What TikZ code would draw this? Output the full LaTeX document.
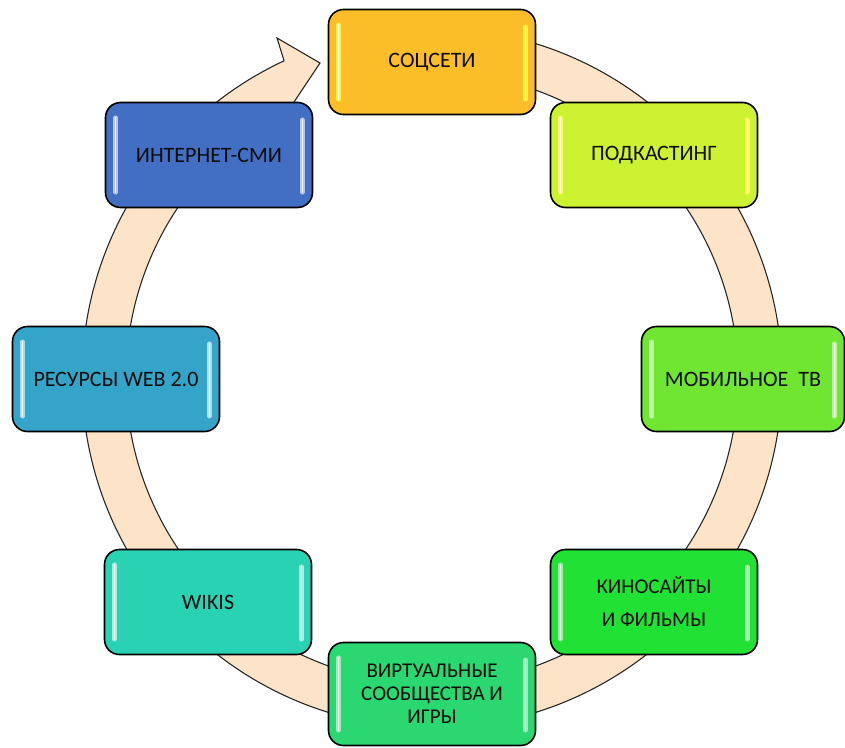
\documentclass[tikz,border=0pt]{standalone}
\usepackage{fontspec}
\setmainfont{Carlito}
\usetikzlibrary{calc}
\definecolor{cSoc}{RGB}{252,190,40}
\definecolor{cPod}{RGB}{205,242,50}
\definecolor{cMob}{RGB}{112,230,50}
\definecolor{cKino}{RGB}{32,225,52}
\definecolor{cVirt}{RGB}{42,215,112}
\definecolor{cWiki}{RGB}{42,210,180}
\definecolor{cRes}{RGB}{52,165,200}
\definecolor{cInt}{RGB}{66,110,195}
\definecolor{ringfill}{RGB}{253,228,200}
\definecolor{ringline}{RGB}{40,40,40}
\newcommand\glossbox[3]{%
  \draw[line width=4.5pt, #2!#3!white, line cap=round]
    ([xshift=11pt,yshift=-16pt]#1.north west) -- ([xshift=11pt,yshift=16pt]#1.south west);
  \draw[line width=1.5pt, #2!8!white, line cap=round]
    ([xshift=11pt,yshift=-16pt]#1.north west) -- ([xshift=11pt,yshift=16pt]#1.south west);
  \draw[line width=4.5pt, #2!#3!white, line cap=round]
    ([xshift=-11pt,yshift=-18pt]#1.north east) -- ([xshift=-11pt,yshift=16pt]#1.south east);
  \draw[line width=1.5pt, #2!8!white, line cap=round]
    ([xshift=-11pt,yshift=-18pt]#1.north east) -- ([xshift=-11pt,yshift=16pt]#1.south east);
}
\begin{document}
\begin{tikzpicture}[x=1pt,y=1pt,
  stage/.style={draw=black, line width=1.6pt, rounded corners=15pt,
    minimum width=207pt, minimum height=105pt, inner sep=0pt, align=center,
    text=black!95, font=\fontsize{22}{26}\selectfont},
  ring/.style={fill=ringfill, draw=ringline, line width=1.1pt, line join=miter}]
\useasboundingbox (0,0) rectangle (845,-747);
\coordinate (c) at (432,-378);
% ring with arrowhead
\coordinate (s0) at ($(c)+(85:350)$);
\coordinate (bo) at (277,-38);
\coordinate (tip) at (320,-63);
\coordinate (bi) at (262,-150);
\coordinate (ni) at ($(c)+(118:306)$);
\path[ring] (s0) arc[start angle=85, end angle=-245, radius=350]
  -- (bo) -- (tip) -- (bi) -- (ni)
  arc[start angle=-242, end angle=85, radius=306] -- cycle;
% boxes
\node[stage, fill=cSoc] (soc) at (432,-62) {СОЦСЕТИ};
\node[stage, fill=cPod] (pod) at (654,-155) {ПОДКАСТИНГ};
\node[stage, fill=cMob, minimum width=203pt] (mob) at (743,-379) {МОБИЛЬНОЕ\ \ ТВ};
\node[stage, fill=cKino, font=\fontsize{21}{33}\selectfont] (kino) at (654,-602) {КИНОСАЙТЫ\\И ФИЛЬМЫ};
\node[stage, fill=cVirt, minimum height=103pt, font=\fontsize{21}{23}\selectfont] (virt) at (432,-694) {ВИРТУАЛЬНЫЕ\\СООБЩЕСТВА И\\ИГРЫ};
\node[stage, fill=cWiki] (wiki) at (208,-602) {WIKIS};
\node[stage, fill=cRes] (res) at (116,-379) {РЕСУРСЫ WEB 2.0};
\node[stage, fill=cInt] (int) at (209,-155) {ИНТЕРНЕТ-СМИ};
\glossbox{soc}{yellow}{75}
\glossbox{pod}{yellow}{60}
\glossbox{mob}{cMob}{45}
\glossbox{kino}{cKino}{45}
\glossbox{virt}{cVirt}{45}
\glossbox{wiki}{cWiki}{40}
\glossbox{res}{cRes}{40}
\glossbox{int}{cInt}{40}
\end{tikzpicture}
\end{document}
